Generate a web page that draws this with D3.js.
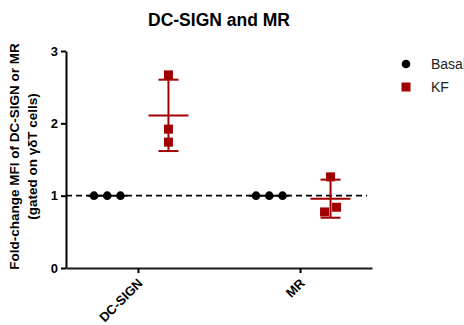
<!DOCTYPE html>
<html>
<head>
<meta charset="utf-8">
<script src="https://cdn.jsdelivr.net/npm/d3@7"></script>
<style>
  body { margin: 0; background: #fff; }
  text { font-family: "Liberation Sans", Arial, sans-serif; }
</style>
</head>
<body>
<svg width="464" height="325"></svg>
<script>
// data
const categories = ["DC-SIGN", "MR"];
const groups = ["Basal", "KF"];
const basal = {
  "DC-SIGN": [1, 1, 1],
  "MR": [1, 1, 1]
};
const kf = {
  "DC-SIGN": [2.67, 1.92, 1.74],
  "MR": [1.26, 0.84, 0.775]
};
const kfJitter = {
  "DC-SIGN": [0, 0, 0],
  "MR": [0, 1, -1]
};
const yTicks = [0, 1, 2, 3];

const red = "#a00000";

const svg = d3.select("svg"),
  margin = { top: 51, right: 92, bottom: 57, left: 66 },
  width = +svg.attr("width") - margin.left - margin.right,
  height = +svg.attr("height") - margin.top - margin.bottom,
  g = svg.append("g").attr("transform", `translate(${margin.left},${margin.top})`);

const x = d3.scalePoint().domain(categories).range([0, width]).padding(0.444);

// position of each replicate inside a category
const sub = d3.scaleLinear().domain([0, 2]).range([-44, -17.5]);
const kfOffset = 30.5;
const jit = 6;

const y = d3.scaleLinear().domain([0, 3]).range([height, 0]);

// title
svg.append("text")
  .attr("x", 219).attr("y", 26)
  .attr("text-anchor", "middle")
  .style("font-size", "17.5px").style("font-weight", "bold")
  .text("DC-SIGN and MR");

// axes
const yAxis = g.append("g")
  .call(d3.axisLeft(y).tickValues(yTicks).tickFormat(d3.format("d")).tickSize(5).tickSizeOuter(0));
yAxis.select(".domain").attr("stroke-width", 2).attr("stroke", "#000");
yAxis.selectAll(".tick line").attr("stroke-width", 2);
yAxis.selectAll(".tick text")
  .attr("x", -8)
  .style("font-size", "13px").style("font-weight", "bold")
  .attr("fill", "#000");

const xAxis = g.append("g")
  .attr("transform", `translate(0,${height})`)
  .call(d3.axisBottom(x).tickSize(5).tickSizeOuter(0));
xAxis.select(".domain").attr("stroke-width", 2).attr("stroke", "#1a1a1a");
xAxis.selectAll(".tick line").attr("stroke-width", 2);
xAxis.selectAll(".tick text")
  .attr("text-anchor", "end")
  .attr("x", 0).attr("y", 0).attr("dy", 0)
  .attr("transform", "translate(5,16) rotate(-45)")
  .style("font-size", "13px").style("font-weight", "bold")
  .attr("fill", "#000");

// y axis label
const yl = g.append("text")
  .attr("transform", `translate(${-47},${height / 2 - 3}) rotate(-90)`)
  .attr("text-anchor", "middle")
  .style("font-size", "13.5px").style("font-weight", "bold");
yl.append("tspan").attr("x", 0).attr("dy", 0).text("Fold-change MFI of DC-SIGN or MR");
yl.append("tspan").attr("x", 0).attr("dy", 18).text("(gated on γδT cells)");

// dashed reference line at 1
g.append("line")
  .attr("x1", 0).attr("x2", width - 5)
  .attr("y1", y(1)).attr("y2", y(1))
  .attr("stroke", "#000").attr("stroke-width", 1.6)
  .attr("stroke-dasharray", "6,4");

const mean = a => d3.mean(a);
const sd = a => d3.deviation(a);

categories.forEach(c => {
  const cx = x(c);
  // basal
  const bm = mean(basal[c]);
  g.append("line")
    .attr("x1", cx + sub(1) - 20).attr("x2", cx + sub(1) + 20)
    .attr("y1", y(bm)).attr("y2", y(bm))
    .attr("stroke", "#000").attr("stroke-width", 2);
  g.selectAll(null).data(basal[c]).enter().append("circle")
    .attr("cx", (d, i) => cx + sub(i))
    .attr("cy", d => y(d))
    .attr("r", 4.3)
    .attr("fill", "#000");

  // KF
  const kx = cx + kfOffset;
  const km = mean(kf[c]), ks = sd(kf[c]);
  const eb = g.append("g").attr("stroke", red).attr("stroke-width", 2);
  kf[c].forEach((d, i) => {
    g.append("rect")
      .attr("x", kx + kfJitter[c][i] * jit - 4.5)
      .attr("y", y(d) - 4.5)
      .attr("width", 9).attr("height", 9)
      .attr("fill", red);
  });
  eb.append("line").attr("x1", kx).attr("x2", kx).attr("y1", y(km + ks)).attr("y2", y(km - ks));
  eb.append("line").attr("x1", kx - 10).attr("x2", kx + 10).attr("y1", y(km + ks)).attr("y2", y(km + ks));
  eb.append("line").attr("x1", kx - 10).attr("x2", kx + 10).attr("y1", y(km - ks)).attr("y2", y(km - ks));
  eb.append("line").attr("x1", kx - 20).attr("x2", kx + 20).attr("y1", y(km)).attr("y2", y(km));
});

// legend
const legend = svg.append("g").attr("transform", "translate(406,64)");
groups.forEach((gname, i) => {
  const row = legend.append("g").attr("transform", `translate(0,${i * 23})`);
  if (i === 0) {
    row.append("circle").attr("r", 4.3).attr("fill", "#000");
  } else {
    row.append("rect").attr("x", -4.5).attr("y", -4.5).attr("width", 9).attr("height", 9).attr("fill", red);
  }
  row.append("text")
    .attr("x", 25).attr("y", 5)
    .style("font-size", "14px")
    .attr("fill", "#222")
    .text(gname);
});
</script>
</body>
</html>
